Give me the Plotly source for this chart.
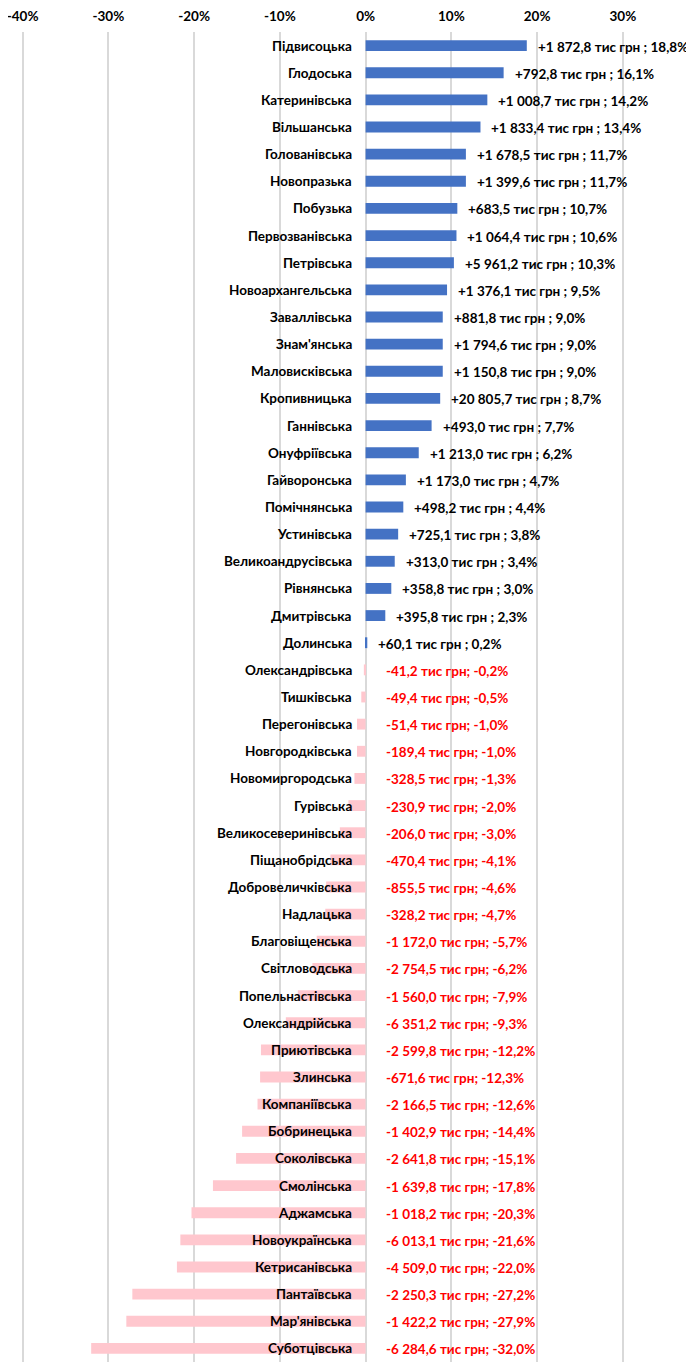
import plotly.graph_objects as go

communities = [
    "Підвисоцька", "Глодоська", "Катеринівська", "Вільшанська", "Голованівська",
    "Новопразька", "Побузька", "Первозванівська", "Петрівська", "Новоархангельська",
    "Заваллівська", "Знам'янська", "Маловисківська", "Кропивницька", "Ганнівська",
    "Онуфріївська", "Гайворонська", "Помічнянська", "Устинівська", "Великоандрусівська",
    "Рівнянська", "Дмитрівська", "Долинська", "Олександрівська", "Тишківська",
    "Перегонівська", "Новгородківська", "Новомиргородська", "Гурівська", "Великосеверинівська",
    "Піщанобрідська", "Добровеличківська", "Надлацька", "Благовіщенська", "Світловодська",
    "Попельнастівська", "Олександрійська", "Приютівська", "Злинська", "Компаніївська",
    "Бобринецька", "Соколівська", "Смолінська", "Аджамська", "Новоукраїнська",
    "Кетрисанівська", "Пантаївська", "Мар'янівська", "Суботцівська",
]
change_pct = [
    18.8, 16.1, 14.2, 13.4, 11.7, 11.7, 10.7, 10.6, 10.3, 9.5,
    9.0, 9.0, 9.0, 8.7, 7.7, 6.2, 4.7, 4.4, 3.8, 3.4,
    3.0, 2.3, 0.2, -0.2, -0.5, -1.0, -1.0, -1.3, -2.0, -3.0,
    -4.1, -4.6, -4.7, -5.7, -6.2, -7.9, -9.3, -12.2, -12.3, -12.6,
    -14.4, -15.1, -17.8, -20.3, -21.6, -22.0, -27.2, -27.9, -32.0,
]
change_amount = [
    1872.8, 792.8, 1008.7, 1833.4, 1678.5, 1399.6, 683.5, 1064.4, 5961.2, 1376.1,
    881.8, 1794.6, 1150.8, 20805.7, 493.0, 1213.0, 1173.0, 498.2, 725.1, 313.0,
    358.8, 395.8, 60.1, -41.2, -49.4, -51.4, -189.4, -328.5, -230.9, -206.0,
    -470.4, -855.5, -328.2, -1172.0, -2754.5, -1560.0, -6351.2, -2599.8, -671.6, -2166.5,
    -1402.9, -2641.8, -1639.8, -1018.2, -6013.1, -4509.0, -2250.3, -1422.2, -6284.6,
]
tick_values = [-40, -30, -20, -10, 0, 10, 20, 30]
tick_labels = ["-40%", "-30%", "-20%", "-10%", "0%", "10%", "20%", "30%"]

FONT = "Lato"
BLUE = "#4472C4"
PINK = "#FFC7CE"
RED = "#FF0000"
FS = 13.5


def fmt_num(v):
    return f"{abs(v):,.1f}".replace(",", " ").replace(".", ",")


def label_for(amount, pct):
    if pct >= 0:
        return f"+{fmt_num(amount)} тис грн ; {fmt_num(pct)}%"
    return f"-{fmt_num(amount)} тис грн; -{fmt_num(pct)}%"


colors = [BLUE if p >= 0 else PINK for p in change_pct]

fig = go.Figure()
fig.add_trace(go.Bar(
    x=change_pct, y=communities, orientation="h",
    marker=dict(color=colors, line=dict(width=0)),
    width=0.4, hoverinfo="skip",
))

annotations = []
for name, p, a in zip(communities, change_pct, change_amount):
    annotations.append(dict(
        x=0, y=name, xref="x", yref="y", text=f"<b>{name}</b>",
        showarrow=False, xanchor="right", xshift=-12,
        font=dict(family=FONT, size=FS, color="#000000"),
    ))
    if p >= 0:
        annotations.append(dict(
            x=p, y=name, xref="x", yref="y", text=f"<b>{label_for(a, p)}</b>",
            showarrow=False, xanchor="left", xshift=9, yshift=-1,
            font=dict(family=FONT, size=FS, color="#000000"),
        ))
    else:
        annotations.append(dict(
            x=0, y=name, xref="x", yref="y", text=f"<b>{label_for(a, p)}</b>",
            showarrow=False, xanchor="left", xshift=18, yshift=-1,
            font=dict(family=FONT, size=FS, color=RED),
        ))

fig.update_layout(
    width=694, height=1362,
    margin=dict(l=6, r=8, t=24, b=8, autoexpand=False),
    paper_bgcolor="white", plot_bgcolor="white",
    showlegend=False,
    annotations=annotations,
    xaxis=dict(
        side="top", range=[-41, 38.3], automargin=False,
        tickmode="array", tickvals=tick_values,
        ticktext=[f"<b>{t}</b>" for t in tick_labels],
        tickfont=dict(family=FONT, size=FS, color="#000000"),
        ticklabeloverflow="allow",
        showgrid=True, gridcolor="#D9D9D9", gridwidth=1.5,
        zeroline=True, zerolinecolor="#D9D9D9", zerolinewidth=1.5,
        showline=False, ticks="", ticklabelstandoff=7,
        fixedrange=True,
    ),
    yaxis=dict(
        categoryorder="array", categoryarray=communities,
        autorange="reversed", showticklabels=False, automargin=False,
        showgrid=False, zeroline=False, showline=False, ticks="",
        fixedrange=True,
    ),
)

fig.write_html("out.html")
